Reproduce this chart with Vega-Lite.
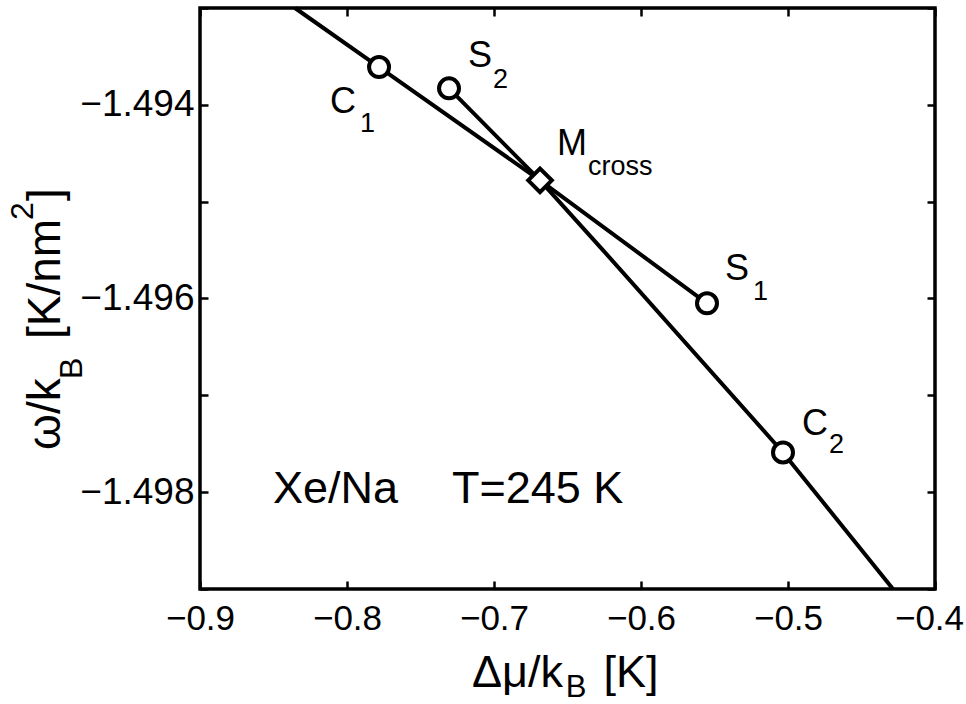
{
  "$schema": "https://vega.github.io/schema/vega-lite/v6.json",
  "width": 735,
  "height": 581,
  "autosize": {"type": "none"},
  "padding": {"left": 200, "top": 8, "right": 31, "bottom": 115},
  "background": "white",
  "config": {
    "font": "Liberation Sans",
    "view": {"stroke": "black", "strokeWidth": 3.5},
    "axis": {
      "domain": false,
      "grid": false,
      "ticks": true,
      "tickColor": "black",
      "tickWidth": 2.5,
      "tickSize": -8,
      "labelColor": "black",
      "labelFont": "Liberation Sans",
      "labelFontSize": 37,
      "labelFlush": false,
      "labelOverlap": false,
      "title": null
    }
  },
  "datasets": {
    "curves": [
      {"branch": "a", "i": 0, "mu": -0.8354, "omega": -1.4930},
      {"branch": "a", "i": 1, "mu": -0.7782, "omega": -1.49361},
      {"branch": "a", "i": 2, "mu": -0.6687, "omega": -1.49478},
      {"branch": "a", "i": 3, "mu": -0.5551, "omega": -1.49605},
      {"branch": "b", "i": 0, "mu": -0.7306, "omega": -1.49383},
      {"branch": "b", "i": 1, "mu": -0.6687, "omega": -1.49478},
      {"branch": "b", "i": 2, "mu": -0.6259, "omega": -1.4955},
      {"branch": "b", "i": 3, "mu": -0.5034, "omega": -1.49759},
      {"branch": "b", "i": 4, "mu": -0.4286, "omega": -1.4990}
    ],
    "points": [
      {"name": "C1", "kind": "end", "mu": -0.7782, "omega": -1.49361},
      {"name": "S2", "kind": "end", "mu": -0.7306, "omega": -1.49383},
      {"name": "Mcross", "kind": "cross", "mu": -0.6687, "omega": -1.49478},
      {"name": "S1", "kind": "end", "mu": -0.5551, "omega": -1.49605},
      {"name": "C2", "kind": "end", "mu": -0.5034, "omega": -1.49759}
    ],
    "labels": [
      {"role": "main", "text": "C", "mu": -0.81156, "omega": -1.494084},
      {"role": "sub", "text": "1", "mu": -0.79116, "omega": -1.49428},
      {"role": "main", "text": "S", "mu": -0.71769, "omega": -1.493609},
      {"role": "sub", "text": "2", "mu": -0.70068, "omega": -1.493826},
      {"role": "main", "text": "M", "mu": -0.65714, "omega": -1.494518},
      {"role": "sub", "text": "cross", "mu": -0.63605, "omega": -1.494725},
      {"role": "main", "text": "S", "mu": -0.54286, "omega": -1.495809},
      {"role": "sub", "text": "1", "mu": -0.52381, "omega": -1.496015},
      {"role": "main", "text": "C", "mu": -0.49048, "omega": -1.49741},
      {"role": "sub", "text": "2", "mu": -0.47211, "omega": -1.497596},
      {"role": "note", "text": "Xe/Na", "mu": -0.8503, "omega": -1.49811},
      {"role": "note", "text": "T=245 K", "mu": -0.7286, "omega": -1.49811},
      {"role": "xtitle", "text": "Δμ/k", "mu": -0.7150, "omega": -1.500012},
      {"role": "xtitlesub", "text": "B", "mu": -0.6512, "omega": -1.500115},
      {"role": "xtitle", "text": "[K]", "mu": -0.6255, "omega": -1.500012},
      {"role": "ytitle", "text": "ω/k", "mu": -0.99524, "omega": -1.497564},
      {"role": "ytitlesub", "text": "B", "mu": -0.98027, "omega": -1.496831},
      {"role": "ytitle", "text": "[K/nm", "mu": -0.99524, "omega": -1.496418},
      {"role": "ytitlesub", "text": "2", "mu": -1.01361, "omega": -1.495189},
      {"role": "ytitle", "text": "]", "mu": -0.99524, "omega": -1.494993}
    ]
  },
  "resolve": {"axis": {"x": "independent", "y": "independent"}},
  "layer": [
    {
      "data": {"name": "curves"},
      "mark": {"type": "line", "color": "black", "strokeWidth": 4},
      "encoding": {
        "x": {"field": "mu", "type": "quantitative",
          "scale": {"domain": [-0.9, -0.4], "nice": false, "zero": false},
          "axis": {"orient": "bottom", "values": [-0.9, -0.8, -0.7, -0.6, -0.5, -0.4], "format": ".1f", "labelPadding": 20, "labelFontSize": 35,
            "labelOffset": {"condition": {"test": "datum.value > -0.45", "value": -6}, "value": 0}}},
        "y": {"field": "omega", "type": "quantitative",
          "scale": {"domain": [-1.499, -1.493], "nice": false, "zero": false},
          "axis": {"orient": "left", "values": [-1.499, -1.498, -1.497, -1.496, -1.495, -1.494, -1.493],
            "labelExpr": "abs(round(datum.value*1000)) % 2 == 0 ? format(datum.value, '.3f') : ''", "labelPadding": 14}},
        "detail": {"field": "branch"},
        "order": {"field": "i"}
      }
    },
    {
      "data": {"name": "points"},
      "mark": {"type": "point", "opacity": 0},
      "encoding": {
        "x": {"field": "mu", "type": "quantitative",
          "axis": {"orient": "top", "values": [-0.9, -0.8, -0.7, -0.6, -0.5, -0.4], "labels": false}},
        "y": {"field": "omega", "type": "quantitative",
          "axis": {"orient": "right", "values": [-1.499, -1.498, -1.497, -1.496, -1.495, -1.494, -1.493], "labels": false}}
      }
    },
    {
      "data": {"name": "points"},
      "mark": {"type": "point", "fill": "white", "stroke": "black", "strokeWidth": 4, "opacity": 1},
      "encoding": {
        "x": {"field": "mu", "type": "quantitative", "axis": null},
        "y": {"field": "omega", "type": "quantitative", "axis": null},
        "shape": {"field": "kind", "type": "nominal", "scale": {"domain": ["end", "cross"], "range": ["circle", "diamond"]}, "legend": null},
        "size": {"field": "kind", "type": "nominal", "scale": {"domain": ["end", "cross"], "range": [400, 560]}, "legend": null}
      }
    },
    {
      "data": {"name": "labels"},
      "transform": [{"filter": "datum.role == 'main'"}],
      "mark": {"type": "text", "align": "left", "baseline": "alphabetic", "fontSize": 36, "color": "black"},
      "encoding": {
        "x": {"field": "mu", "type": "quantitative", "axis": null},
        "y": {"field": "omega", "type": "quantitative", "axis": null},
        "text": {"field": "text"}
      }
    },
    {
      "data": {"name": "labels"},
      "transform": [{"filter": "datum.role == 'sub'"}],
      "mark": {"type": "text", "align": "left", "baseline": "alphabetic", "fontSize": 27, "color": "black"},
      "encoding": {
        "x": {"field": "mu", "type": "quantitative", "axis": null},
        "y": {"field": "omega", "type": "quantitative", "axis": null},
        "text": {"field": "text"}
      }
    },
    {
      "data": {"name": "labels"},
      "transform": [{"filter": "datum.role == 'note'"}],
      "mark": {"type": "text", "align": "left", "baseline": "alphabetic", "fontSize": 45, "color": "black"},
      "encoding": {
        "x": {"field": "mu", "type": "quantitative", "axis": null},
        "y": {"field": "omega", "type": "quantitative", "axis": null},
        "text": {"field": "text"}
      }
    },
    {
      "data": {"name": "labels"},
      "transform": [{"filter": "datum.role == 'xtitle'"}],
      "mark": {"type": "text", "align": "left", "baseline": "alphabetic", "fontSize": 45, "color": "black"},
      "encoding": {
        "x": {"field": "mu", "type": "quantitative", "axis": null},
        "y": {"field": "omega", "type": "quantitative", "axis": null},
        "text": {"field": "text"}
      }
    },
    {
      "data": {"name": "labels"},
      "transform": [{"filter": "datum.role == 'xtitlesub'"}],
      "mark": {"type": "text", "align": "left", "baseline": "alphabetic", "fontSize": 31, "color": "black"},
      "encoding": {
        "x": {"field": "mu", "type": "quantitative", "axis": null},
        "y": {"field": "omega", "type": "quantitative", "axis": null},
        "text": {"field": "text"}
      }
    },
    {
      "data": {"name": "labels"},
      "transform": [{"filter": "datum.role == 'ytitle'"}],
      "mark": {"type": "text", "align": "left", "baseline": "alphabetic", "angle": 270, "fontSize": 46, "color": "black"},
      "encoding": {
        "x": {"field": "mu", "type": "quantitative", "axis": null},
        "y": {"field": "omega", "type": "quantitative", "axis": null},
        "text": {"field": "text"}
      }
    },
    {
      "data": {"name": "labels"},
      "transform": [{"filter": "datum.role == 'ytitlesub'"}],
      "mark": {"type": "text", "align": "left", "baseline": "alphabetic", "angle": 270, "fontSize": 32, "color": "black"},
      "encoding": {
        "x": {"field": "mu", "type": "quantitative", "axis": null},
        "y": {"field": "omega", "type": "quantitative", "axis": null},
        "text": {"field": "text"}
      }
    }
  ]
}
